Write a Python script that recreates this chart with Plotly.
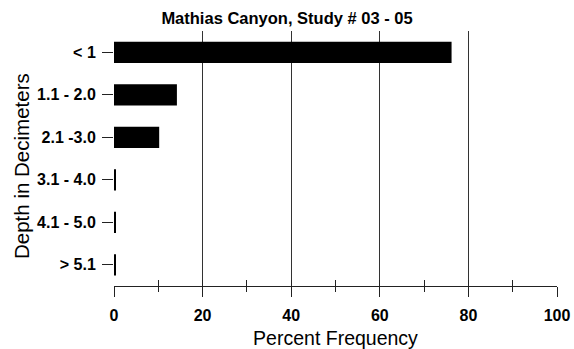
import plotly.graph_objects as go

# Depth classes (top to bottom) and their percent frequency
depth_classes = ["< 1", "1.1 - 2.0", "2.1 -3.0", "3.1 - 4.0", "4.1 - 5.0", "> 5.1"]
percent_freq = [76.2, 14.2, 10.2, 0.3, 0.3, 0.3]

x_major = [0, 20, 40, 60, 80, 100]
x_grid = [20, 40, 60, 80, 100]
x_minor = [10, 30, 50, 70, 90]

FONT = "Liberation Sans, Arial, sans-serif"
INK = "#000000"

fig = go.Figure()
fig.add_trace(go.Bar(
    x=percent_freq,
    y=depth_classes,
    orientation="h",
    width=0.5,
    marker=dict(color=INK, line=dict(width=0)),
    xaxis="x",
    yaxis="y",
))
# empty trace so the overlay axis (inside ticks + grid) is drawn
fig.add_trace(go.Scatter(x=[], y=[], xaxis="x2", yaxis="y", showlegend=False))

fig.update_layout(
    width=574,
    height=349,
    margin=dict(l=114, r=17, t=31, b=63, autoexpand=False),
    paper_bgcolor="white",
    plot_bgcolor="white",
    showlegend=False,
    title=dict(
        text="<b>Mathias Canyon, Study # 03 - 05</b>",
        x=0.5, xanchor="center",
        y=1 - 18 / 349, yanchor="middle",
        font=dict(family=FONT, size=16.5, color=INK),
    ),
    xaxis=dict(
        range=[0, 100],
        tickvals=x_major,
        ticks="outside", ticklen=10, tickwidth=1, tickcolor="#222",
        ticklabelstandoff=5,
        tickfont=dict(family=FONT, size=16, color=INK, weight="bold"),
        showline=True, linecolor="#222", linewidth=1,
        showgrid=False, zeroline=False, automargin=False,
        minor=dict(tickvals=x_minor, ticks="outside", ticklen=5,
                   tickwidth=1, tickcolor="#222", showgrid=False),
        title=dict(text="Percent Frequency", standoff=14,
                   font=dict(family=FONT, size=19.5, color=INK)),
        fixedrange=True,
    ),
    xaxis2=dict(
        overlaying="x", anchor="y", side="bottom",
        range=[0, 100],
        tickvals=x_grid,
        ticks="inside", ticklen=6, tickwidth=1, tickcolor="#222",
        showticklabels=False,
        showgrid=True, gridcolor="#333", gridwidth=1,
        zeroline=False, showline=False, automargin=False,
        minor=dict(tickvals=x_minor, ticks="inside", ticklen=6,
                   tickwidth=1, tickcolor="#222", showgrid=False),
    ),
    yaxis=dict(
        categoryorder="array", categoryarray=depth_classes,
        range=[5.5, -0.5],
        ticks="outside", ticklen=11, tickwidth=1, tickcolor="#222",
        ticklabelstandoff=3,
        tickfont=dict(family=FONT, size=16, color=INK, weight="bold"),
        showline=False, showgrid=False, zeroline=False, automargin=False,
        fixedrange=True,
    ),
    annotations=[dict(
        text="Depth in Decimeters",
        textangle=-90,
        xref="paper", yref="paper",
        x=0, y=0.4706,
        xanchor="center", yanchor="middle",
        xshift=-92,
        showarrow=False,
        font=dict(family=FONT, size=20.5, color=INK),
    )],
)

fig.write_html("out.html", config={"displayModeBar": False})
